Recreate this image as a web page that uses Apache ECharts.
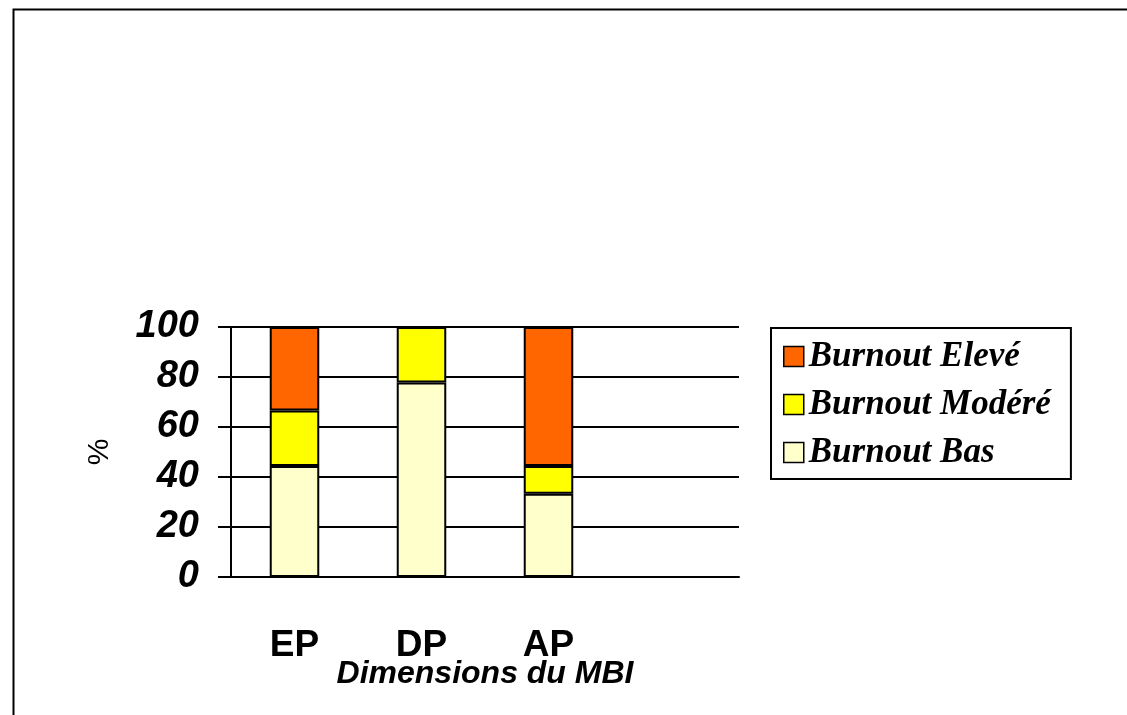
<!DOCTYPE html>
<html>
<head>
<meta charset="utf-8">
<script src="https://cdn.jsdelivr.net/npm/echarts@6/dist/echarts.min.js"></script>
<style>
html,body{margin:0;padding:0;background:#fff;}
#chart{width:1127px;height:715px;}
</style>
</head>
<body>
<div id="chart"></div>
<script>
const categories = ['EP', 'DP', 'AP', ''];
const burnoutBas = [44.4, 77.8, 33.3, null];
const burnoutModere = [22.2, 22.2, 11.1, null];
const burnoutEleve = [33.4, 0, 55.6, null];
const yTicks = [0, 20, 40, 60, 80, 100];
const seriesNames = ['Burnout Elevé', 'Burnout Modéré', 'Burnout Bas'];

const chart = echarts.init(document.getElementById('chart'));
const barStyle = (c) => ({ color: c, borderColor: '#000', borderWidth: 2 });
chart.setOption({
  animation: false,
  backgroundColor: '#fff',
  graphic: [{
    type: 'rect', left: 11, top: 7,
    shape: { width: 1200, height: 800 },
    style: { fill: 'none', stroke: '#000', lineWidth: 2 }
  }],
  grid: { left: 231, right: 388, top: 327, bottom: 138 },
  legend: {
    data: seriesNames,
    orient: 'vertical',
    left: 771, top: 328,
    borderColor: '#000', borderWidth: 2,
    padding: [11, 20, 9, 12],
    itemGap: 13,
    itemWidth: 20, itemHeight: 20,
    itemTextGap: 10,
    icon: 'rect',
    itemStyle: { borderColor: '#000', borderWidth: 1.5 },
    textStyle: {
      fontFamily: 'Liberation Serif', fontWeight: 'bold', fontStyle: 'italic',
      fontSize: 35, lineHeight: 35, color: '#000'
    }
  },
  xAxis: {
    type: 'category',
    data: categories,
    name: 'Dimensions du MBI',
    nameLocation: 'middle',
    nameGap: 81,
    nameMoveOverlap: false,
    nameTextStyle: { fontFamily: 'Liberation Sans', fontWeight: 'bold', fontStyle: 'italic', fontSize: 32, color: '#000' },
    axisLine: { lineStyle: { color: '#000', width: 2 } },
    axisTick: { length: 13, lineStyle: { color: '#000', width: 2 } },
    axisLabel: { margin: 50, fontFamily: 'Liberation Sans', fontWeight: 'bold', fontSize: 37, color: '#000' }
  },
  yAxis: {
    type: 'value',
    min: 0, max: 100, interval: 20,
    name: '%',
    nameLocation: 'middle',
    nameGap: 116,
    nameMoveOverlap: false,
    nameTextStyle: { fontFamily: 'Liberation Sans', fontSize: 30, color: '#000' },
    axisLine: { show: true, lineStyle: { color: '#000', width: 2 } },
    axisTick: { show: true, length: 13, lineStyle: { color: '#000', width: 2 } },
    axisLabel: {
      margin: 32,
      fontFamily: 'Liberation Sans', fontWeight: 'bold', fontStyle: 'italic', fontSize: 38, color: '#000',
      formatter: (v) => yTicks.includes(v) ? String(v) : ''
    },
    splitLine: { show: true, lineStyle: { color: '#000', width: 2 } }
  },
  series: [
    { name: 'Burnout Bas', type: 'bar', stack: 'mbi', data: burnoutBas, barWidth: '39%', itemStyle: barStyle('#FFFFCC') },
    { name: 'Burnout Modéré', type: 'bar', stack: 'mbi', data: burnoutModere, barWidth: '39%', itemStyle: barStyle('#FFFF00') },
    { name: 'Burnout Elevé', type: 'bar', stack: 'mbi', data: burnoutEleve, barWidth: '39%', itemStyle: barStyle('#FF6600') }
  ]
});
</script>
</body>
</html>
